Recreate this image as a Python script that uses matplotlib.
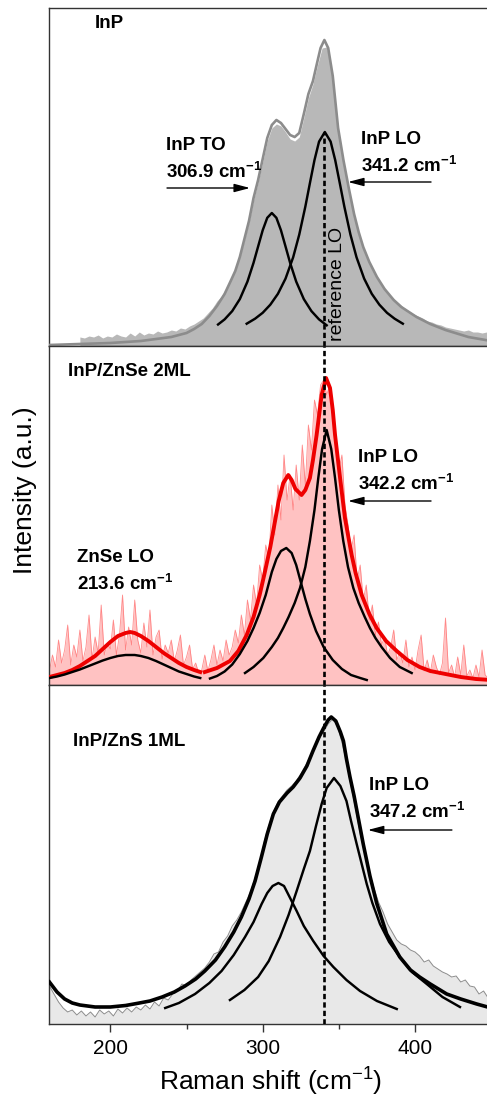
import matplotlib
matplotlib.use('Agg')
import matplotlib.pyplot as plt

plt.rcParams['font.family'] = ['Liberation Sans', 'DejaVu Sans']
plt.rcParams['mathtext.fontset'] = 'custom'
plt.rcParams['mathtext.rm'] = 'Liberation Sans'
plt.rcParams['mathtext.bf'] = 'Liberation Sans:bold'
plt.rcParams['mathtext.it'] = 'Liberation Sans:italic'

# ---------------- data (intensity in a.u.) ----------------
# Panel 1: InP
inp_raw_x = list(range(180, 451, 3))
inp_raw_y = [9, 8, 10, 9, 11, 8, 10, 9, 12, 10, 9, 13, 10, 14, 11, 13, 12, 15, 13, 14,
             16, 15, 18, 17, 20, 22, 25, 28, 33, 38, 45, 50, 58, 66, 76, 89, 106, 124, 146, 164,
             184, 205, 218, 222, 220, 214, 207, 205, 209, 228, 248, 262, 281, 298, 299, 276, 236, 200, 175, 151,
             129, 111, 97, 86, 77, 68, 62, 56, 50, 46, 42, 38, 35, 32, 30, 28, 25, 24, 22, 21,
             19, 18, 17, 16, 15, 16, 14, 14, 13, 14, 12]
inp_fit_x = [160, 170, 180, 190, 200, 210, 220, 230, 240, 250, 255, 260, 265, 270, 275, 279, 282, 285,
             288, 291, 294, 297, 300, 303, 306, 309, 312, 315, 318, 321, 324, 327, 330, 333, 336, 338,
             340.5, 343, 346, 349.5, 353, 356.5, 360, 363, 366, 370, 375, 380, 386, 391, 401, 410, 420, 435, 450]
inp_fit_y = [1, 1.5, 2, 2.5, 3, 4, 5, 7, 9, 13, 17, 22, 30, 40, 52, 65, 75, 89,
             107, 125, 148, 166, 187, 208, 221, 226, 223, 217, 211, 209, 213, 232, 252, 265, 285, 298,
             306, 298, 270, 218, 186, 158, 132, 114, 99, 84, 69, 57, 46, 39, 29, 22, 16, 9, 5]
inp_to_x = [270.7, 275, 280, 285, 290, 294, 297, 300, 303, 306, 309, 312, 315, 318, 322, 327, 332, 337, 342]
inp_to_y = [21.5, 26.6, 34.9, 46.9, 64.4, 83.2, 99.5, 115.7, 128.2, 133, 128.2, 115.7, 99.5, 83.2, 64.4, 46.9, 34.9, 26.6, 20.7]
inp_lo_x = [289.5, 295, 300, 305, 310, 315, 320, 324, 328, 331, 334, 337, 340.8, 344.6, 347.6, 350.6,
            353.6, 357.6, 361.6, 366.6, 371.6, 376.6, 381.6, 386.6, 392]
inp_lo_y = [22.3, 27.3, 33.2, 41.3, 52.2, 67.4, 88.7, 111.4, 139.4, 162.9, 185.9, 204.4, 214, 204.4, 185.9, 162.9,
            139.4, 111.4, 88.7, 67.4, 52.2, 41.3, 33.2, 27.3, 22.3]

# Panel 2: InP/ZnSe 2ML
znse_raw_x = list(range(160, 451, 2))
znse_raw_y = [14, 30, 18, 45, 22, 35, 60, 20, 40, 28,
              55, 24, 38, 70, 26, 48, 32, 80, 30, 42,
              36, 65, 30, 50, 90, 35, 58, 40, 85, 45,
              32, 62, 38, 75, 30, 48, 55, 26, 40, 32,
              45, 24, 35, 50, 20, 28, 40, 16, 22, 12,
              15, 30, 14, 25, 40, 20, 35, 24, 45, 30,
              38, 55, 42, 70, 50, 85, 65, 100, 80, 120,
              105, 140, 125, 180, 150, 200, 165, 230, 185, 210,
              175, 220, 185, 240, 200, 260, 235, 285, 270, 300,
              305, 290, 300, 270, 245, 215, 230, 180, 160, 135,
              150, 105, 120, 85, 100, 65, 80, 50, 63, 40,
              48, 30, 38, 55, 25, 33, 22, 45, 18, 28,
              15, 35, 50, 14, 25, 12, 30, 18, 10, 22,
              67, 12, 20, 8, 28, 10, 40, 9, 15, 7,
              20, 8, 35, 10, 7, 18]
znse_fit1_x = [160, 165, 170, 175, 180, 185, 190, 195, 200, 205, 210, 213, 216, 220, 225, 230, 235, 240, 245, 250, 255, 259]
znse_fit1_y = [8, 10, 12, 15, 19, 24, 29, 36, 43, 49, 52, 53, 52, 49, 44, 38, 32, 27, 22, 18, 15, 13]
znse_fit2_x = [262, 270, 278.5, 284, 289.5, 294, 298, 301, 305, 308, 310.5, 313.5, 316.8, 319, 321.5, 325.5,
               328, 331, 333, 335.4, 338.7, 341.6, 344.2, 346, 347.5, 350.8, 354, 358.4, 361, 365, 370,
               374.8, 381, 388, 395, 403, 410, 420, 430, 440, 450]
znse_fit2_y = [13, 17, 24, 34, 50, 68, 90, 110, 138, 163, 184, 202, 210, 205, 196, 190,
               195, 207, 225, 250, 290, 307, 297, 275, 250, 207, 167, 130, 112, 90, 71,
               57, 44, 34, 25, 18, 14, 11, 8, 6, 5]
znse_lo_x = [160, 165, 170, 175, 180, 185, 190, 195, 200, 205, 210, 213, 216, 220, 225, 230, 235, 240, 245, 250, 255, 259]
znse_lo_y = [7, 8.5, 10.5, 13, 15.5, 18.5, 21.5, 24.5, 27, 29, 30, 30, 30, 29, 27, 24, 20.5, 17, 13.5, 11, 8.5, 7]
znse_to_x = [265.4, 270, 275, 280, 285, 290, 294, 298, 302, 306, 309, 312, 315.5, 319, 322, 325, 328, 331, 335, 340, 346, 352, 358, 364, 368.3]
znse_to_y = [6.5, 9, 13.5, 20.5, 31, 44, 57, 72, 90, 113, 126, 134, 137, 132, 120, 103, 86, 71, 54, 38, 25, 16, 10, 7, 5]
znse_inplo_x = [288.4, 294, 300.4, 306, 310, 313.5, 317, 321, 324.5, 328, 331, 334, 336.5, 339, 342,
                345, 347.5, 350, 352.9, 356, 359.5, 363, 367, 370.4, 374, 378, 383.6, 390, 397.8]
znse_inplo_y = [12, 18, 27, 38, 47, 57, 68, 82, 97, 118, 144, 175, 207, 236, 255,
                236, 207, 175, 144, 118, 97, 82, 68, 57, 47, 38, 27, 18, 12]

# Panel 3: InP/ZnS 1ML
zns_raw_x = list(range(160, 449, 3)) + [450]
zns_raw_y = [38, 30, 22, 16, 12, 14, 9, 13, 8, 12, 7, 14, 10, 13, 8, 15, 11, 16, 12, 17,
             14, 19, 15, 22, 18, 26, 24, 30, 33, 40, 38, 44, 48, 52, 56, 62, 70, 72, 82, 88,
             98, 104, 112, 122, 132, 146, 160, 182, 198, 212, 222, 228, 234, 238, 243, 250, 258, 266, 278, 286,
             292, 300, 305, 298, 282, 262, 238, 215, 190, 172, 152, 136, 122, 112, 100, 92, 84, 80, 78, 74,
             72, 68, 62, 64, 58, 55, 52, 50, 47, 48, 42, 44, 38, 37, 30, 33, 26, 24]
zns_fit_x = [160, 165, 170, 175, 180, 190, 200, 210, 218, 226, 234, 242, 249, 256, 262, 269, 275, 281,
             286, 291, 295, 299, 303, 307, 311, 316, 320, 324.5, 329, 333, 337, 340, 343, 345, 348,
             351, 353, 355, 357.3, 360, 362, 366, 370.4, 374.8, 381.4, 390, 397, 403, 410, 420.8, 430, 440.5, 450]
zns_fit_y = [42, 32, 25, 21, 19, 17, 17, 18.5, 20.7, 23, 27, 32, 38, 45, 53, 64, 77, 92,
             107, 125, 143, 166, 190, 210, 222, 231, 237, 246, 258, 273, 287, 296, 304, 307, 303,
             292, 283, 265, 247, 228, 212, 180, 148, 121, 90, 67, 54, 47, 40, 30, 25, 20, 16]
zns_to_x = [236, 245, 255.6, 265, 273, 281, 288.4, 294, 299.3, 303, 306.5, 310.3, 314, 318, 322.3, 327,
            333.2, 340, 346.4, 355, 363.9, 375, 388]
zns_to_y = [16, 21, 30, 41, 53, 69, 87, 102, 120, 131, 138, 141, 138, 126, 113, 98,
            83, 68, 57, 44, 33, 23, 15]
zns_lo_x = [278.5, 288, 297, 304, 311.4, 317, 322.3, 327, 331, 335, 338.7, 342, 346.8, 351, 355, 358,
            361.7, 365, 368.3, 372, 377, 383, 390, 398, 407.7, 418, 429.5]
zns_lo_y = [24, 34, 47, 63, 87, 109, 133, 155, 173, 198, 220, 236, 246, 238, 223, 203,
            180, 160, 140, 121, 100, 82, 67, 52, 40, 27, 17]

reference_lo = 340.0
reference_top = 214

# ---------------- figure ----------------
W, H = 487, 1101
fig = plt.figure(figsize=(W / 100, H / 100), dpi=100)


def add_ax(top_px, bot_px):
    return fig.add_axes([49.4 / W, (H - bot_px) / H, 441.8 / W, (bot_px - top_px) / H])


panels = [(8, 346), (346, 685), (685, 1024)]
axes = [add_ax(t, b) for t, b in panels]

for ax, (t, b) in zip(axes, panels):
    ax.set_xlim(160, 450)
    ax.set_ylim(0, b - t)
    ax.set_yticks([])
    ax.set_xticks([200, 300, 400])
    ax.set_xticks([250, 350], minor=True)
    ax.tick_params(axis='x', which='major', direction='out', length=6, width=1.0,
                   labelsize=15, pad=5, color='#333333')
    ax.tick_params(axis='x', which='minor', direction='out', length=3.6, width=1.0, color='#333333')
    for s in ax.spines.values():
        s.set_color('#333333')
        s.set_linewidth(1.0)
for ax in axes[:2]:
    ax.tick_params(axis='x', labelbottom=False)

lab = dict(fontsize=13.5, fontweight='bold', ha='left', va='center')
arrow = dict(arrowstyle='-|>,head_length=0.95,head_width=0.25', color='black', lw=1.0,
             mutation_scale=10, shrinkA=0, shrinkB=0)
dash = dict(color='black', lw=1.9, linestyle=(0, (2, 1.2)), zorder=6)
comp_lw = 1.75

# Panel 1
ax = axes[0]
ax.fill_between(inp_raw_x, 0, inp_raw_y, color='#b8b8b8', lw=0, zorder=1)
ax.plot(inp_fit_x, inp_fit_y, color='#8c8c8c', lw=1.9, zorder=3)
ax.plot(inp_to_x, inp_to_y, color='black', lw=comp_lw, zorder=4)
ax.plot(inp_lo_x, inp_lo_y, color='black', lw=comp_lw, zorder=4)
ax.plot([reference_lo, reference_lo], [0, reference_top], **dash)
ax.text(348.8, 62, 'reference LO', rotation=90, fontsize=14, ha='center', va='center', zorder=7)
ax.text(189.5, 322, 'InP', **lab)
ax.text(236.6, 200, 'InP TO', **lab)
ax.text(236.6, 174, r'306.9 cm$^{\mathbf{-1}}$', **lab)
ax.annotate('', xy=(291.7, 158), xytext=(237.2, 158), arrowprops=arrow)
ax.text(364.5, 206, 'InP LO', **lab)
ax.text(364.5, 180, r'341.2 cm$^{\mathbf{-1}}$', **lab)
ax.annotate('', xy=(356, 164), xytext=(410.5, 164), arrowprops=arrow)

# Panel 2
ax = axes[1]
ax.fill_between(znse_raw_x, 0, znse_raw_y, color='#ffc2c2', lw=0, zorder=1)
ax.plot(znse_raw_x, znse_raw_y, color='#ff7070', lw=0.6, alpha=0.8, zorder=2)
ax.plot(znse_fit1_x, znse_fit1_y, color='#ee0000', lw=2.8, zorder=3)
ax.plot(znse_fit2_x, znse_fit2_y, color='#ee0000', lw=2.8, zorder=3)
ax.plot(znse_lo_x, znse_lo_y, color='black', lw=comp_lw, zorder=4)
ax.plot(znse_to_x, znse_to_y, color='black', lw=comp_lw, zorder=4)
ax.plot(znse_inplo_x, znse_inplo_y, color='black', lw=comp_lw, zorder=4)
ax.axvline(reference_lo, **dash)
ax.text(172.2, 313, 'InP/ZnSe 2ML', **lab)
ax.text(362.5, 228, 'InP LO', **lab)
ax.text(362.5, 201, r'342.2 cm$^{\mathbf{-1}}$', **lab)
ax.annotate('', xy=(356, 184), xytext=(410.5, 184), arrowprops=arrow)
ax.text(178.1, 127, 'ZnSe LO', **lab)
ax.text(178.1, 101, r'213.6 cm$^{\mathbf{-1}}$', **lab)

# Panel 3
ax = axes[2]
ax.fill_between(zns_raw_x, 0, zns_raw_y, color='#e8e8e8', lw=0, zorder=1)
ax.plot(zns_raw_x, zns_raw_y, color='#8c8c8c', lw=0.7, zorder=2)
ax.plot(zns_fit_x, zns_fit_y, color='black', lw=2.6, zorder=3)
ax.plot(zns_to_x, zns_to_y, color='black', lw=comp_lw, zorder=4)
ax.plot(zns_lo_x, zns_lo_y, color='black', lw=comp_lw, zorder=4)
ax.axvline(reference_lo, **dash)
ax.text(175.5, 282, 'InP/ZnS 1ML', **lab)
ax.text(369.8, 238, 'InP LO', **lab)
ax.text(369.8, 212, r'347.2 cm$^{\mathbf{-1}}$', **lab)
ax.annotate('', xy=(369, 194), xytext=(424.2, 194), arrowprops=arrow)

fig.text(25 / W, 1 - 490 / H, 'Intensity (a.u.)', rotation=90, fontsize=19, ha='center', va='center')
fig.text(270.5 / W, 1 - 1082 / H, r'Raman shift (cm$^{-1}$)', fontsize=19, ha='center', va='center')

fig.savefig('out.png', dpi=100)
